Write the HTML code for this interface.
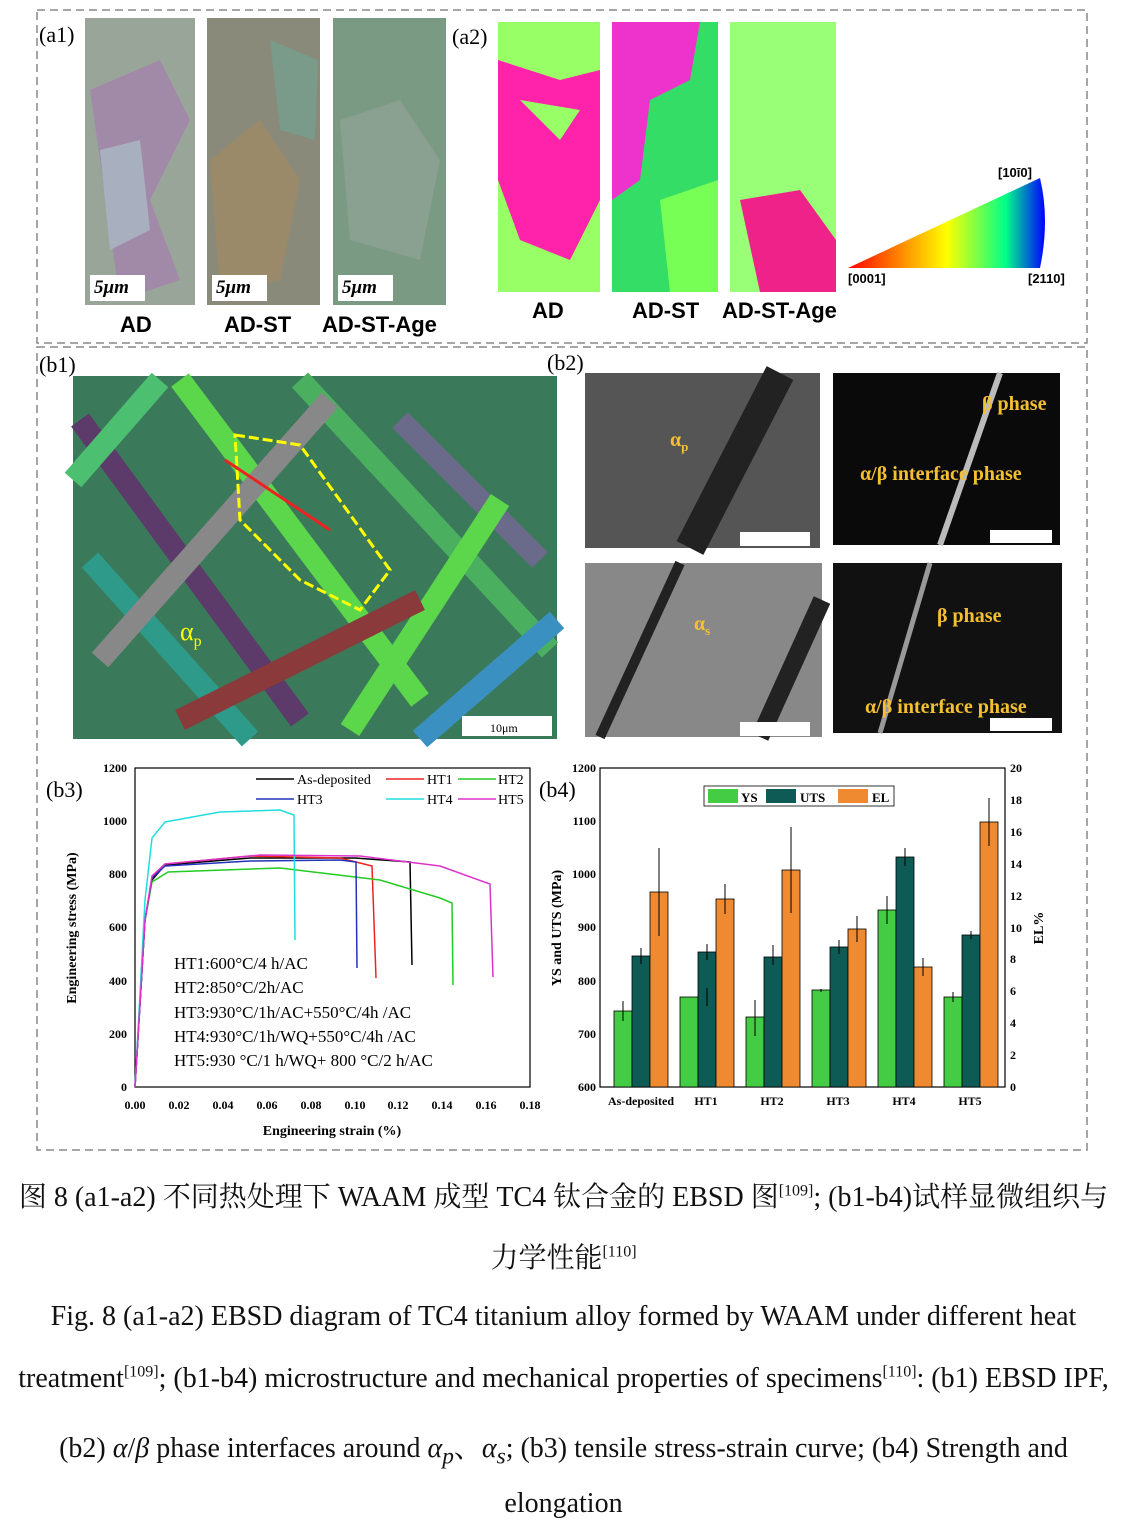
<!DOCTYPE html>
<html><head><meta charset="utf-8"><style>
body{margin:0;background:#fff;width:1127px;height:1537px;overflow:hidden}
svg text{font-family:"Liberation Serif","Noto Serif CJK SC",serif}
.cap{position:absolute;left:-20px;width:1167px;text-align:center;font-family:"Liberation Serif","Noto Serif CJK SC",serif;font-size:28px;color:#111;white-space:nowrap}
</style></head><body>
<svg width="1127" height="1537" style="position:absolute;left:0;top:0">
<defs>
<linearGradient id="tri" x1="0" y1="0" x2="1" y2="0"><stop offset="0" stop-color="#f00"/><stop offset="0.5" stop-color="#ff0"/><stop offset="0.8" stop-color="#0f8"/><stop offset="1" stop-color="#00f"/></linearGradient>
</defs>
<rect x="37" y="10" width="1050" height="333" fill="none" stroke="#888" stroke-dasharray="8,5" stroke-width="1.5"/>
<rect x="37" y="347" width="1050" height="803" fill="none" stroke="#888" stroke-dasharray="8,5" stroke-width="1.5"/>
<text x="39" y="42" font-size="22">(a1)</text>
<text x="452" y="44" font-size="22">(a2)</text>
<rect x="85" y="18" width="110" height="287" fill="#9aa59a"/>
<path d="M90 90 L160 60 L190 120 L150 200 L180 280 L120 300 Z" fill="#a08aa8"/>
<path d="M100 150 L140 140 L150 230 L110 250Z" fill="#a8b0c0"/>
<rect x="207" y="18" width="113" height="287" fill="#8a8a7a"/>
<path d="M210 160 L260 120 L300 180 L280 280 L220 290Z" fill="#9a8a6a"/>
<path d="M270 40 L318 60 L315 140 L280 130Z" fill="#7a9a8a"/>
<rect x="333" y="18" width="113" height="287" fill="#7a9a84"/>
<path d="M340 120 L400 100 L440 160 L420 260 L350 240Z" fill="#8aa090"/>
<g font-size="19" font-style="italic" font-weight="bold">
<rect x="90" y="275" width="55" height="26" fill="#fff"/><text x="94" y="293">5μm</text>
<rect x="212" y="275" width="55" height="26" fill="#fff"/><text x="216" y="293">5μm</text>
<rect x="338" y="275" width="55" height="26" fill="#fff"/><text x="342" y="293">5μm</text>
<rect x="498" y="265" width="52" height="25" fill="#fff"/><text x="502" y="281">5μm</text>
<rect x="615" y="265" width="52" height="25" fill="#fff"/><text x="619" y="281">5μm</text>
<rect x="733" y="265" width="52" height="25" fill="#fff"/><text x="737" y="281">5μm</text>
</g>
<g font-size="22" font-weight="bold">
<text x="120" y="332" style="font-family:'Liberation Sans'">AD</text>
<text x="224" y="332" style="font-family:'Liberation Sans'">AD-ST</text>
<text x="322" y="332" style="font-family:'Liberation Sans'">AD-ST-Age</text>
<text x="532" y="318" style="font-family:'Liberation Sans'">AD</text>
<text x="632" y="318" style="font-family:'Liberation Sans'">AD-ST</text>
<text x="722" y="318" style="font-family:'Liberation Sans'">AD-ST-Age</text>
</g>
<rect x="498" y="22" width="102" height="270" fill="#9f6"/>
<path d="M498 60 L560 80 L600 70 L600 200 L570 260 L520 240 L498 180Z" fill="#f2a"/>
<path d="M520 100 L580 110 L560 140Z" fill="#9f6"/>
<rect x="612" y="22" width="106" height="270" fill="#3d6"/>
<path d="M612 22 L700 22 L690 80 L650 100 L640 180 L612 200Z" fill="#e3c"/>
<path d="M660 200 L718 180 L718 292 L670 292Z" fill="#7f5"/>
<rect x="730" y="22" width="106" height="270" fill="#9f7"/>
<path d="M740 200 L800 190 L836 240 L836 292 L760 292Z" fill="#e28"/>
<path d="M1040 178 L848 268 L1040 268 Q1050 220 1040 178Z" fill="url(#tri)"/>
<g font-size="13" font-weight="bold">
<text x="998" y="177" style="font-family:'Liberation Sans'">[10ī0]</text>
<text x="848" y="283" style="font-family:'Liberation Sans'">[0001]</text>
<text x="1028" y="283" style="font-family:'Liberation Sans'">[2110]</text>
</g>
<text x="39" y="372" font-size="22">(b1)</text>
<text x="547" y="370" font-size="22">(b2)</text>
<rect x="73" y="376" width="484" height="363" fill="#3a7a5a"/>
<g stroke-width="22" stroke-linecap="butt">
<line x1="80" y1="420" x2="300" y2="720" stroke="#5c3a6a"/>
<line x1="180" y1="380" x2="420" y2="700" stroke="#5cd64a"/>
<line x1="300" y1="380" x2="550" y2="650" stroke="#4ab060"/>
<line x1="90" y1="560" x2="250" y2="739" stroke="#2e9a8a"/>
<line x1="400" y1="420" x2="540" y2="560" stroke="#6a6a8a"/>
<line x1="100" y1="660" x2="330" y2="400" stroke="#888"/>
<line x1="350" y1="730" x2="500" y2="500" stroke="#5cd64a"/>
<line x1="180" y1="720" x2="420" y2="600" stroke="#8a3a3a"/>
<line x1="420" y1="739" x2="557" y2="620" stroke="#3a90c0"/>
<line x1="73" y1="480" x2="160" y2="380" stroke="#4cc070"/>
</g>
<path d="M235 435 L300 445 L390 570 L360 610 L300 580 L240 520Z" fill="none" stroke="#ff0" stroke-width="3" stroke-dasharray="10,4"/>
<line x1="225" y1="460" x2="330" y2="530" stroke="#e22" stroke-width="3"/>
<rect x="462" y="716" width="90" height="20" fill="#fff"/>
<text x="490" y="732" font-size="12">10μm</text>
<text x="180" y="640" font-size="26" fill="#ff0">α<tspan font-size="16" dy="6">p</tspan></text>
<rect x="585" y="373" width="235" height="175" fill="#555"/>
<line x1="690" y1="548" x2="780" y2="373" stroke="#222" stroke-width="30"/>
<rect x="833" y="373" width="227" height="172" fill="#0a0a0a"/>
<line x1="940" y1="545" x2="1000" y2="373" stroke="#bbb" stroke-width="6"/>
<rect x="585" y="563" width="237" height="174" fill="#888"/>
<line x1="600" y1="737" x2="680" y2="563" stroke="#222" stroke-width="10"/>
<line x1="760" y1="737" x2="822" y2="600" stroke="#222" stroke-width="18"/>
<rect x="833" y="563" width="229" height="170" fill="#111"/>
<line x1="880" y1="733" x2="930" y2="563" stroke="#999" stroke-width="5"/>
<g font-size="20" font-weight="bold" fill="#f5c030">
<text x="982" y="410">β phase</text>
<text x="860" y="480">α/β interface phase</text>
<text x="937" y="622">β phase</text>
<text x="865" y="713">α/β interface phase</text>
<text x="670" y="446">α<tspan font-size="13" dy="5">p</tspan></text>
<text x="694" y="630">α<tspan font-size="13" dy="5">s</tspan></text>
</g>
<g fill="#fff"><rect x="740" y="532" width="70" height="14"/><rect x="990" y="530" width="62" height="13"/><rect x="740" y="722" width="70" height="14"/><rect x="990" y="718" width="62" height="13"/></g>
<text x="46" y="797" font-size="22">(b3)</text>
<rect x="135" y="768" width="395" height="319" fill="none" stroke="#000" stroke-width="1.2"/>
<g font-size="12" font-weight="bold" text-anchor="end">
<text x="127" y="1091">0</text><text x="127" y="1038">200</text><text x="127" y="985">400</text><text x="127" y="931">600</text><text x="127" y="878">800</text><text x="127" y="825">1000</text><text x="127" y="772">1200</text>
</g>
<g font-size="12" font-weight="bold" text-anchor="middle">
<text x="135" y="1109">0.00</text><text x="179" y="1109">0.02</text><text x="223" y="1109">0.04</text><text x="267" y="1109">0.06</text><text x="311" y="1109">0.08</text><text x="355" y="1109">0.10</text><text x="398" y="1109">0.12</text><text x="442" y="1109">0.14</text><text x="486" y="1109">0.16</text><text x="530" y="1109">0.18</text>
<text x="332" y="1135" font-size="14">Engineering strain (%)</text>
</g>
<text transform="translate(76,928) rotate(-90)" font-size="14" font-weight="bold" text-anchor="middle">Engineering stress (MPa)</text>
<g fill="none" stroke-width="1.5">
<path d="M135 1087 L145 920 L152 880 L165 865 L250 858 L355 858 L410 862 L412 965" stroke="#000"/>
<path d="M135 1087 L145 920 L152 878 L165 864 L250 856 L340 858 L372 866 L376 978" stroke="#e22"/>
<path d="M135 1087 L145 920 L152 882 L168 872 L280 868 L380 880 L440 898 L452 903 L453 985" stroke="#2c2"/>
<path d="M135 1087 L145 920 L152 878 L165 866 L250 861 L340 860 L356 862 L357 968" stroke="#23b"/>
<path d="M135 1087 L145 900 L152 838 L165 822 L220 812 L280 810 L294 815 L295 940" stroke="#2dd"/>
<path d="M135 1087 L145 920 L152 876 L165 864 L260 855 L360 856 L440 866 L490 884 L493 977" stroke="#d3c"/>
</g>
<g font-size="14">
<line x1="256" y1="779" x2="294" y2="779" stroke="#000" stroke-width="1.5"/><text x="297" y="784">As-deposited</text>
<line x1="386" y1="779" x2="424" y2="779" stroke="#e22" stroke-width="1.5"/><text x="427" y="784">HT1</text>
<line x1="458" y1="779" x2="496" y2="779" stroke="#2c2" stroke-width="1.5"/><text x="498" y="784">HT2</text>
<line x1="256" y1="799" x2="294" y2="799" stroke="#23b" stroke-width="1.5"/><text x="297" y="804">HT3</text>
<line x1="386" y1="799" x2="424" y2="799" stroke="#2dd" stroke-width="1.5"/><text x="427" y="804">HT4</text>
<line x1="458" y1="799" x2="496" y2="799" stroke="#d3c" stroke-width="1.5"/><text x="498" y="804">HT5</text>
</g>
<g font-size="17">
<text x="174" y="969">HT1:600°C/4 h/AC</text>
<text x="174" y="993">HT2:850°C/2h/AC</text>
<text x="174" y="1018">HT3:930°C/1h/AC+550°C/4h /AC</text>
<text x="174" y="1042">HT4:930°C/1h/WQ+550°C/4h /AC</text>
<text x="174" y="1066">HT5:930 °C/1 h/WQ+ 800 °C/2 h/AC</text>
</g>
<text x="539" y="797" font-size="22">(b4)</text>
<rect x="600" y="768" width="405" height="319" fill="none" stroke="#000" stroke-width="1.2"/>
<g font-size="12" font-weight="bold" text-anchor="end">
<text x="596" y="1091">600</text><text x="596" y="1038">700</text><text x="596" y="985">800</text><text x="596" y="931">900</text><text x="596" y="878">1000</text><text x="596" y="825">1100</text><text x="596" y="772">1200</text>
</g>
<g font-size="12" font-weight="bold">
<text x="1010" y="1091">0</text><text x="1010" y="1059">2</text><text x="1010" y="1027">4</text><text x="1010" y="995">6</text><text x="1010" y="963">8</text><text x="1010" y="932">10</text><text x="1010" y="900">12</text><text x="1010" y="868">14</text><text x="1010" y="836">16</text><text x="1010" y="804">18</text><text x="1010" y="772">20</text>
</g>
<text transform="translate(561,928) rotate(-90)" font-size="14" font-weight="bold" text-anchor="middle">YS and UTS (MPa)</text>
<text transform="translate(1043,928) rotate(-90)" font-size="14" font-weight="bold" text-anchor="middle">EL%</text>
<g font-size="12" font-weight="bold" text-anchor="middle">
<text x="641" y="1105">As-deposited</text><text x="706" y="1105">HT1</text><text x="772" y="1105">HT2</text><text x="838" y="1105">HT3</text><text x="904" y="1105">HT4</text><text x="970" y="1105">HT5</text>
</g>
<g stroke="#000" stroke-width="0.8">
<rect x="614" y="1011" width="18" height="76" fill="#4c4"/>
<rect x="680" y="997" width="18" height="90" fill="#4c4"/>
<rect x="746" y="1017" width="18" height="70" fill="#4c4"/>
<rect x="812" y="990" width="18" height="97" fill="#4c4"/>
<rect x="878" y="910" width="18" height="177" fill="#4c4"/>
<rect x="944" y="997" width="18" height="90" fill="#4c4"/>
<rect x="632" y="956" width="18" height="131" fill="#0e5a55"/>
<rect x="698" y="952" width="18" height="135" fill="#0e5a55"/>
<rect x="764" y="957" width="18" height="130" fill="#0e5a55"/>
<rect x="830" y="947" width="18" height="140" fill="#0e5a55"/>
<rect x="896" y="857" width="18" height="230" fill="#0e5a55"/>
<rect x="962" y="935" width="18" height="152" fill="#0e5a55"/>
<rect x="650" y="892" width="18" height="195" fill="#f08a30"/>
<rect x="716" y="899" width="18" height="188" fill="#f08a30"/>
<rect x="782" y="870" width="18" height="217" fill="#f08a30"/>
<rect x="848" y="929" width="18" height="158" fill="#f08a30"/>
<rect x="914" y="967" width="18" height="120" fill="#f08a30"/>
<rect x="980" y="822" width="18" height="265" fill="#f08a30"/>
</g>
<g stroke="#000" stroke-width="1" fill="none">
<path d="M623 1001v20M641 948v16M659 848v88M707 988v18M707 944v16M725 884v30M755 1000v36M773 945v20M791 827v86M821 989v3M839 940v14M857 916v26M887 896v28M905 848v18M923 958v18M953 992v10M971 931v8M989 798v48"/>
</g>
<rect x="704" y="786" width="190" height="20" fill="#fff" stroke="#000" stroke-width="0.8"/>
<rect x="708" y="789" width="30" height="14" fill="#4c4"/><text x="741" y="802" font-size="13" font-weight="bold">YS</text>
<rect x="766" y="789" width="30" height="14" fill="#0e5a55"/><text x="800" y="802" font-size="13" font-weight="bold">UTS</text>
<rect x="838" y="789" width="30" height="14" fill="#f08a30"/><text x="872" y="802" font-size="13" font-weight="bold">EL</text>
</svg>
<div class="cap" style="top:1175px">图 8 (a1-a2) 不同热处理下 WAAM 成型 TC4 钛合金的 EBSD 图<sup style="font-size:16px">[109]</sup>; (b1-b4)试样显微组织与</div>
<div class="cap" style="top:1236px">力学性能<sup style="font-size:16px">[110]</sup></div>
<div class="cap" style="top:1301px">Fig. 8 (a1-a2) EBSD diagram of TC4 titanium alloy formed by WAAM under different heat</div>
<div class="cap" style="top:1363px">treatment<sup style="font-size:16px">[109]</sup>; (b1-b4) microstructure and mechanical properties of specimens<sup style="font-size:16px">[110]</sup>: (b1) EBSD IPF,</div>
<div class="cap" style="top:1426px">(b2) <i>α</i>/<i>β</i> phase interfaces around <i>α<sub>p</sub></i>、<i>α<sub>s</sub></i>; (b3) tensile stress-strain curve; (b4) Strength and</div>
<div class="cap" style="top:1488px">elongation</div>
</body></html>
